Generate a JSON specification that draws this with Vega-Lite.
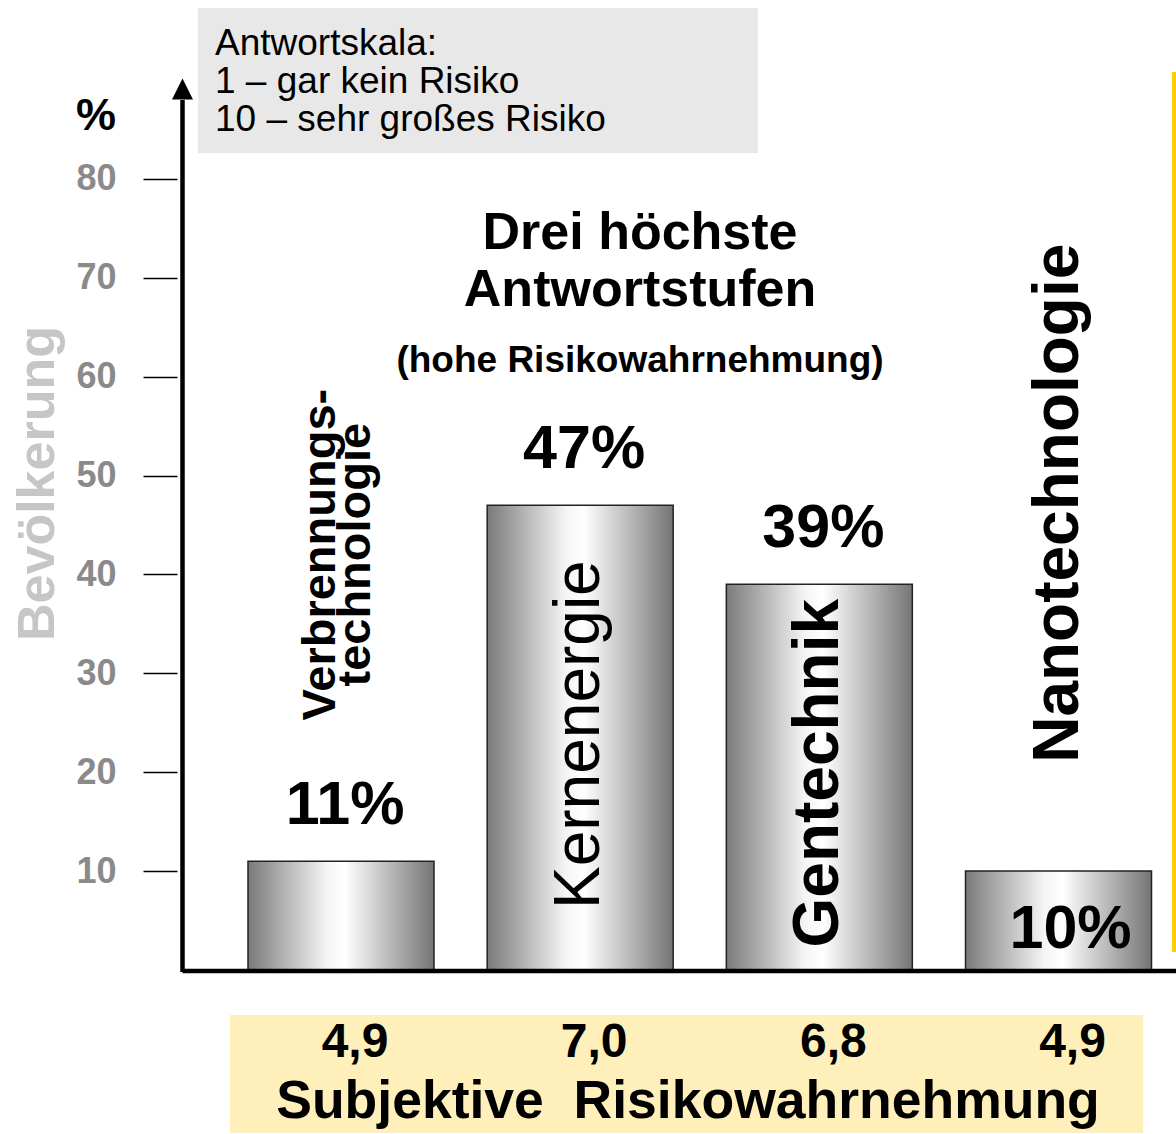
{
  "$schema": "https://vega.github.io/schema/vega-lite/v6.json",
  "width": 994,
  "height": 890,
  "autosize": {"type": "none"},
  "padding": {"left": 182, "top": 80, "right": 0, "bottom": 164},
  "background": "white",
  "config": {
    "font": "Liberation Sans",
    "view": {"stroke": null},
    "locale": {"number": {"decimal": ",", "thousands": ".", "grouping": [3], "currency": ["", " €"]}}
  },
  "datasets": {
    "risk": [
      {"tech": "Verbrennungstechnologie", "share": 0.11, "score": 4.9},
      {"tech": "Kernenergie", "share": 0.47, "score": 7.0},
      {"tech": "Gentechnik", "share": 0.39, "score": 6.8},
      {"tech": "Nanotechnologie", "share": 0.10, "score": 4.9}
    ]
  },
  "resolve": {"scale": {"x": "independent"}, "axis": {"x": "independent", "y": "independent"}},
  "layer": [
    {
      "data": {"values": [{"note": 1}]},
      "layer": [
        {
          "mark": {"type": "rect", "fill": "#e8e8e8"},
          "encoding": {
            "x": {"datum": 0.4021, "type": "quantitative", "scale": {"domain": [0.3352, 4.4912], "nice": false, "zero": false}, "axis": null},
            "x2": {"datum": 2.7435},
            "y": {"datum": 0.9728, "type": "quantitative", "scale": {"domain": [0, 0.9], "nice": false, "zero": false}, "axis": null},
            "y2": {"datum": 0.8262}
          }
        },
        {
          "mark": {"type": "rect", "fill": "#fff0bb"},
          "encoding": {
            "x": {"datum": 0.5359, "type": "quantitative", "scale": {"domain": [0.3352, 4.4912], "nice": false, "zero": false}, "axis": null},
            "x2": {"datum": 4.3533},
            "y": {"datum": -0.0455, "type": "quantitative", "scale": {"domain": [0, 0.9], "nice": false, "zero": false}, "axis": null},
            "y2": {"datum": -0.1648}
          }
        },
        {
          "mark": {"type": "text", "text": ["Antwortskala:", "1 – gar kein Risiko", "10 – sehr großes Risiko"], "fontSize": 37, "lineHeight": 38, "align": "left", "baseline": "alphabetic", "color": "black"},
          "encoding": {
            "x": {"datum": 0.4732, "type": "quantitative", "scale": {"domain": [0.3352, 4.4912], "nice": false, "zero": false}, "axis": null},
            "y": {"datum": 0.9253, "type": "quantitative", "scale": {"domain": [0, 0.9], "nice": false, "zero": false}, "axis": null}
          }
        },
        {
          "mark": {"type": "text", "text": "%", "fontSize": 45, "fontWeight": "bold", "align": "center", "baseline": "alphabetic", "color": "black"},
          "encoding": {
            "x": {"datum": -0.0244, "type": "quantitative", "scale": {"domain": [0.3352, 4.4912], "nice": false, "zero": false}, "axis": null},
            "y": {"datum": 0.8494, "type": "quantitative", "scale": {"domain": [0, 0.9], "nice": false, "zero": false}, "axis": null}
          }
        },
        {
          "mark": {"type": "text", "text": ["Drei höchste", "Antwortstufen"], "fontSize": 52, "lineHeight": 57, "fontWeight": "bold", "align": "center", "baseline": "alphabetic", "color": "black"},
          "encoding": {
            "x": {"datum": 2.2502, "type": "quantitative", "scale": {"domain": [0.3352, 4.4912], "nice": false, "zero": false}, "axis": null},
            "y": {"datum": 0.7291, "type": "quantitative", "scale": {"domain": [0, 0.9], "nice": false, "zero": false}, "axis": null}
          }
        },
        {
          "mark": {"type": "text", "text": "(hohe Risikowahrnehmung)", "fontSize": 37, "fontWeight": "bold", "align": "center", "baseline": "alphabetic", "color": "black"},
          "encoding": {
            "x": {"datum": 2.2502, "type": "quantitative", "scale": {"domain": [0.3352, 4.4912], "nice": false, "zero": false}, "axis": null},
            "y": {"datum": 0.6047, "type": "quantitative", "scale": {"domain": [0, 0.9], "nice": false, "zero": false}, "axis": null}
          }
        },
        {
          "mark": {"type": "text", "text": "Subjektive\u00a0 Risikowahrnehmung", "fontSize": 53.5, "fontWeight": "bold", "align": "center", "baseline": "alphabetic", "color": "black"},
          "encoding": {
            "x": {"datum": 2.4508, "type": "quantitative", "scale": {"domain": [0.3352, 4.4912], "nice": false, "zero": false}, "axis": null},
            "y": {"datum": -0.1497, "type": "quantitative", "scale": {"domain": [0, 0.9], "nice": false, "zero": false}, "axis": null}
          }
        },
        {
          "mark": {"type": "rule", "color": "#ffcc00", "strokeWidth": 4},
          "encoding": {
            "x": {"datum": 4.4829, "type": "quantitative", "scale": {"domain": [0.3352, 4.4912], "nice": false, "zero": false}, "axis": null},
            "y": {"datum": 0.0182, "type": "quantitative", "scale": {"domain": [0, 0.9], "nice": false, "zero": false}, "axis": null},
            "y2": {"datum": 0.9081}
          }
        }
      ]
    },
    {
      "data": {"name": "risk"},
      "resolve": {"axis": {"y": "independent"}},
      "layer": [
        {
          "mark": {
            "type": "bar",
            "stroke": "#222222",
            "strokeWidth": 1.5,
            "fill": {
              "gradient": "linear", "x1": 0, "x2": 1, "y1": 0, "y2": 0,
              "stops": [
                {"offset": 0, "color": "#7a7a7a"},
                {"offset": 0.42, "color": "#f4f4f4"},
                {"offset": 0.52, "color": "#ffffff"},
                {"offset": 1, "color": "#757575"}
              ]
            }
          },
          "encoding": {
            "x": {"field": "tech", "type": "nominal", "sort": null, "axis": null,
                  "scale": {"domain": ["Verbrennungstechnologie", "Kernenergie", "Gentechnik", "Nanotechnologie"], "range": [66, 969.5], "paddingInner": 0.2223, "paddingOuter": 0}},
            "y": {"field": "share", "type": "quantitative",
                  "scale": {"domain": [0, 0.9], "nice": false, "zero": false},
                  "axis": {
                    "orient": "left",
                    "values": [0.1, 0.2, 0.3, 0.4, 0.5, 0.6, 0.7, 0.8],
                    "labelExpr": "round(datum.value*100)",
                    "domain": false, "grid": false,
                    "offset": 5,
                    "tickSize": 34, "tickWidth": 1.5, "tickColor": "black",
                    "labelFont": "Liberation Sans", "labelFontSize": 36, "labelFontWeight": "bold", "labelColor": "#8a8a8a",
                    "labelPadding": 27,
                    "title": "Bevölkerung",
                    "titleFont": "Liberation Sans", "titleFontSize": 52, "titleFontWeight": "bold", "titleColor": "#c6c6c6",
                    "titleAngle": 270, "titleBaseline": "alphabetic", "titleAlign": "center",
                    "titleX": -124, "titleY": 403
                  }}
          }
        },
        {
          "transform": [{"filter": "datum.tech !== 'Nanotechnologie'"}],
          "mark": {"type": "text", "fontSize": 61, "fontWeight": "bold", "baseline": "alphabetic", "align": "center", "dy": -37, "dx": 4, "color": "black"},
          "encoding": {
            "x": {"field": "tech", "type": "nominal", "sort": null, "axis": null},
            "y": {"field": "share", "type": "quantitative", "scale": {"domain": [0, 0.9], "nice": false, "zero": false}, "axis": null},
            "text": {"field": "share", "type": "quantitative", "format": ".0%"}
          }
        },
        {
          "transform": [{"filter": "datum.tech === 'Nanotechnologie'"}],
          "mark": {"type": "text", "fontSize": 61, "fontWeight": "bold", "baseline": "alphabetic", "align": "center", "dy": -22, "dx": 12, "color": "black"},
          "encoding": {
            "x": {"field": "tech", "type": "nominal", "sort": null, "axis": null},
            "y": {"datum": 0, "type": "quantitative", "scale": {"domain": [0, 0.9], "nice": false, "zero": false}, "axis": null},
            "text": {"field": "share", "type": "quantitative", "format": ".0%"}
          }
        },
        {
          "transform": [{"filter": "datum.tech === 'Verbrennungstechnologie'"}],
          "mark": {"type": "text", "text": ["Verbrennungs-", "technologie"], "angle": 270, "fontSize": 47, "lineHeight": 35, "fontWeight": "bold", "align": "center", "baseline": "middle", "dy": -20, "color": "black"},
          "encoding": {
            "x": {"field": "tech", "type": "nominal", "sort": null, "axis": null},
            "y": {"datum": 0.42, "type": "quantitative", "scale": {"domain": [0, 0.9], "nice": false, "zero": false}, "axis": null}
          }
        },
        {
          "transform": [{"filter": "datum.tech === 'Kernenergie'"}],
          "mark": {"type": "text", "angle": 270, "fontSize": 64, "fontWeight": "normal", "align": "center", "baseline": "middle", "color": "black"},
          "encoding": {
            "x": {"field": "tech", "type": "nominal", "sort": null, "axis": null},
            "y": {"datum": 0.238, "type": "quantitative", "scale": {"domain": [0, 0.9], "nice": false, "zero": false}, "axis": null},
            "text": {"field": "tech", "type": "nominal"}
          }
        },
        {
          "transform": [{"filter": "datum.tech === 'Gentechnik'"}],
          "mark": {"type": "text", "angle": 270, "fontSize": 64, "fontWeight": "bold", "align": "center", "baseline": "middle", "color": "black"},
          "encoding": {
            "x": {"field": "tech", "type": "nominal", "sort": null, "axis": null},
            "y": {"datum": 0.199, "type": "quantitative", "scale": {"domain": [0, 0.9], "nice": false, "zero": false}, "axis": null},
            "text": {"field": "tech", "type": "nominal"}
          }
        },
        {
          "transform": [{"filter": "datum.tech === 'Nanotechnologie'"}],
          "mark": {"type": "text", "angle": 270, "fontSize": 64, "fontWeight": "bold", "align": "center", "baseline": "middle", "color": "black"},
          "encoding": {
            "x": {"field": "tech", "type": "nominal", "sort": null, "axis": null},
            "y": {"datum": 0.472, "type": "quantitative", "scale": {"domain": [0, 0.9], "nice": false, "zero": false}, "axis": null},
            "text": {"field": "tech", "type": "nominal"}
          }
        },
        {
          "mark": {"type": "text", "fontSize": 48, "fontWeight": "bold", "align": "center", "baseline": "alphabetic", "dx": 14, "color": "black"},
          "encoding": {
            "x": {"field": "tech", "type": "nominal", "sort": null, "axis": null},
            "y": {"datum": -0.088, "type": "quantitative", "scale": {"domain": [0, 0.9], "nice": false, "zero": false}, "axis": null},
            "text": {"field": "score", "type": "quantitative", "format": ".1f"}
          }
        }
      ]
    },
    {
      "data": {"values": [{"note": 1}]},
      "layer": [
        {
          "mark": {"type": "rule", "color": "black", "strokeWidth": 4.5},
          "encoding": {
            "x": {"datum": 0.3373, "type": "quantitative", "scale": {"domain": [0.3352, 4.4912], "nice": false, "zero": false}, "axis": null},
            "y": {"datum": -0.002, "type": "quantitative", "scale": {"domain": [0, 0.9], "nice": false, "zero": false}, "axis": null},
            "y2": {"datum": 0.8798}
          }
        },
        {
          "mark": {"type": "rule", "color": "black", "strokeWidth": 4.5},
          "encoding": {
            "x": {"datum": 0.3373, "type": "quantitative", "scale": {"domain": [0.3352, 4.4912], "nice": false, "zero": false}, "axis": null},
            "x2": {"datum": 4.4912},
            "y": {"datum": -0.001, "type": "quantitative", "scale": {"domain": [0, 0.9], "nice": false, "zero": false}, "axis": null}
          }
        },
        {
          "mark": {"type": "point", "shape": "M0,-1L1,1L-1,1Z", "size": 441, "filled": true, "color": "black", "opacity": 1},
          "encoding": {
            "x": {"datum": 0.3373, "type": "quantitative", "scale": {"domain": [0.3352, 4.4912], "nice": false, "zero": false}, "axis": null},
            "y": {"datum": 0.8909, "type": "quantitative", "scale": {"domain": [0, 0.9], "nice": false, "zero": false}, "axis": null}
          }
        }
      ]
    }
  ]
}
